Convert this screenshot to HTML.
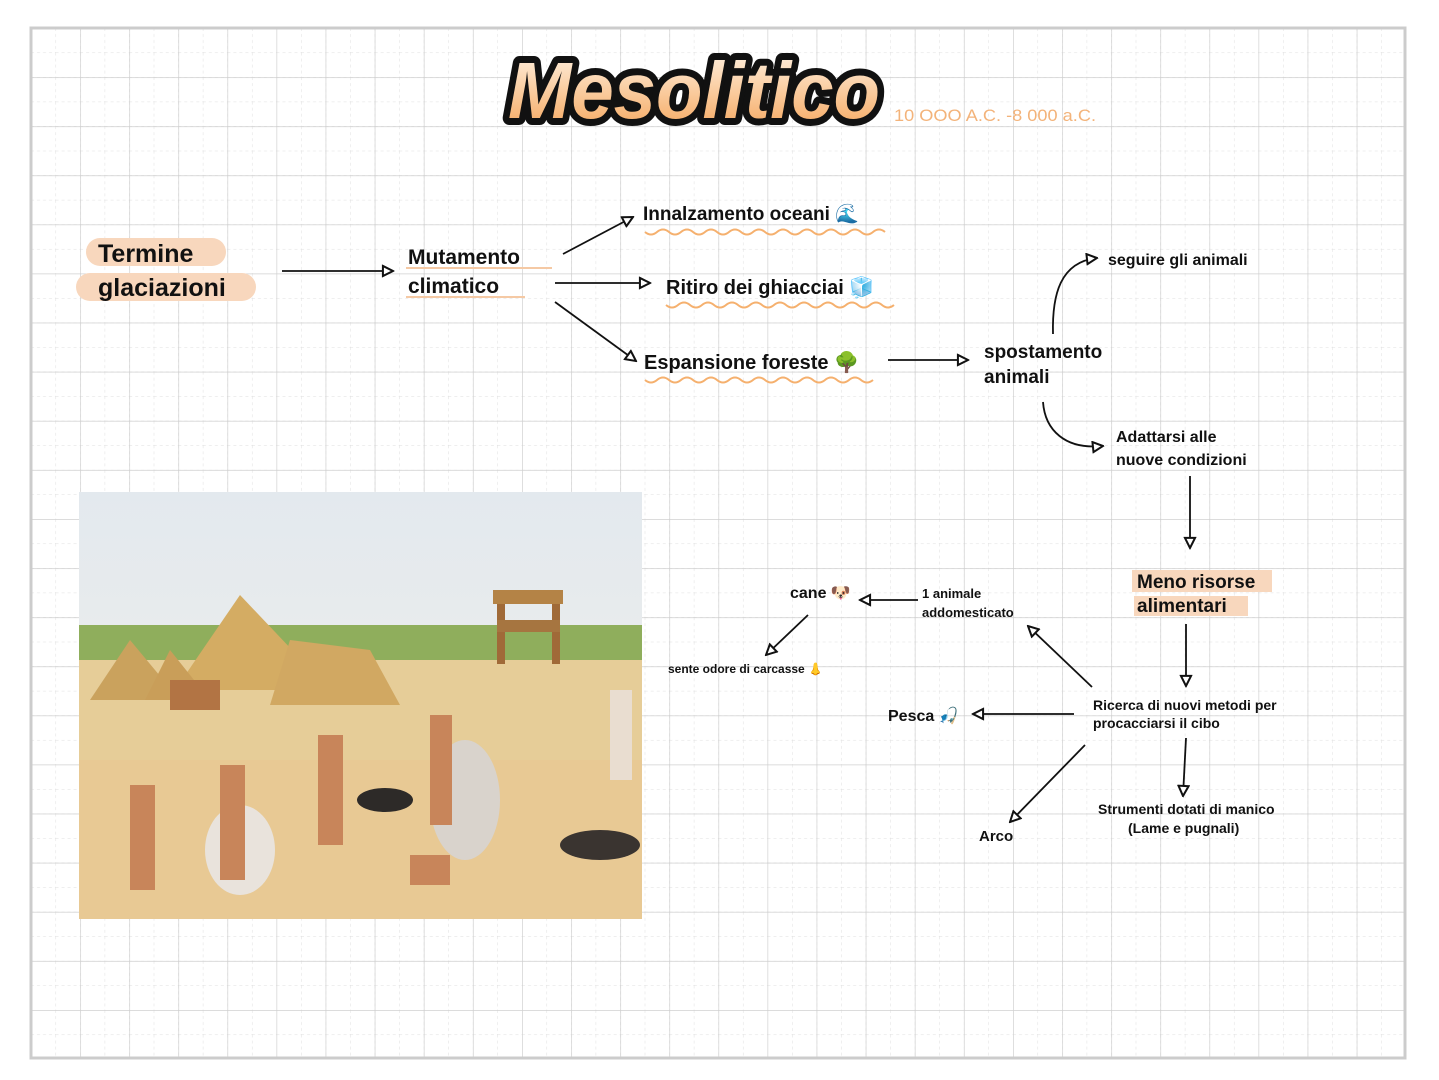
<!DOCTYPE html>
<html><head><meta charset="utf-8"><style>
html,body{margin:0;padding:0;background:#fff;}
svg{display:block}
text{font-family:"Liberation Sans",sans-serif;fill:#111;font-weight:bold}
</style></head><body>
<svg width="1439" height="1080" viewBox="0 0 1439 1080" xmlns="http://www.w3.org/2000/svg">
<defs>
<pattern id="minor" x="31" y="28" width="24.55" height="24.55" patternUnits="userSpaceOnUse">
<path d="M0 0H24.55M0 0V24.55" stroke="#dedede" stroke-width="1" stroke-dasharray="3 3" fill="none"/>
</pattern>
<pattern id="major" x="31" y="28" width="49.1" height="49.1" patternUnits="userSpaceOnUse">
<path d="M0 0H49.1M0 0V49.1" stroke="#d0d0d0" stroke-width="1.4" fill="none"/>
</pattern>
<linearGradient id="tg" x1="0" y1="0" x2="0" y2="1"><stop offset="0" stop-color="#fff4e6"/><stop offset="1" stop-color="#f5a55a"/></linearGradient>
<linearGradient id="sky" x1="0" y1="0" x2="0" y2="1"><stop offset="0" stop-color="#e3e9ee"/><stop offset="1" stop-color="#f2f0ea"/></linearGradient>
<marker id="ar" viewBox="0 0 10 10" refX="9" refY="5" markerWidth="7" markerHeight="7" orient="auto"><path d="M1 1L9 5L1 9Z" fill="#fff" stroke="#111" stroke-width="1.6"/></marker>
</defs>
<rect x="31" y="28" width="1374" height="1030" fill="url(#minor)"/>
<rect x="31" y="28" width="1374" height="1030" fill="url(#major)"/>
<rect x="31" y="28" width="1374" height="1030" fill="none" stroke="#ccc" stroke-width="3"/>

<!-- title -->
<text x="508" y="118" font-style="italic" font-size="80" textLength="372" lengthAdjust="spacingAndGlyphs" stroke="#111" stroke-width="14" stroke-linejoin="round" style="fill:#111">Mesolitico</text>
<text x="508" y="118" font-style="italic" font-size="80" textLength="372" lengthAdjust="spacingAndGlyphs" style="fill:url(#tg)">Mesolitico</text>
<text x="894" y="121" font-size="17" textLength="202" lengthAdjust="spacingAndGlyphs" style="fill:#f3b37a;font-weight:normal">10 OOO A.C. -8 000 a.C.</text>

<!-- highlights -->
<rect x="86" y="238" width="140" height="28" rx="14" fill="#f8d7bd"/>
<rect x="76" y="273" width="180" height="28" rx="14" fill="#f8d7bd"/>
<rect x="1132" y="570" width="140" height="22" fill="#f8d7bd"/>
<rect x="1134" y="596" width="114" height="20" fill="#f8d7bd"/>
<line x1="406" y1="268" x2="552" y2="268" stroke="#f5c9a4" stroke-width="2"/>
<line x1="406" y1="297" x2="525" y2="297" stroke="#f5c9a4" stroke-width="2"/>

<text x="98" y="262" font-size="25">Termine</text>
<text x="98" y="296" font-size="25">glaciazioni</text>
<text x="408" y="264" font-size="21">Mutamento</text>
<text x="408" y="293" font-size="21">climatico</text>

<g stroke="#111" stroke-width="1.8" fill="none">
<line x1="282" y1="271" x2="393" y2="271" marker-end="url(#ar)"/>
<line x1="563" y1="254" x2="633" y2="217" marker-end="url(#ar)"/>
<line x1="555" y1="283" x2="650" y2="283" marker-end="url(#ar)"/>
<line x1="555" y1="302" x2="636" y2="361" marker-end="url(#ar)"/>
<line x1="888" y1="360" x2="968" y2="360" marker-end="url(#ar)"/>
<path d="M1053 334C1052 295 1060 262 1097 258" marker-end="url(#ar)"/>
<path d="M1043 402C1045 430 1065 450 1103 446" marker-end="url(#ar)"/>
<line x1="1190" y1="476" x2="1190" y2="548" marker-end="url(#ar)"/>
<line x1="1186" y1="624" x2="1186" y2="686" marker-end="url(#ar)"/>
<line x1="1092" y1="687" x2="1028" y2="626" marker-end="url(#ar)"/>
<line x1="1074" y1="714" x2="973" y2="714" marker-end="url(#ar)"/>
<line x1="1085" y1="745" x2="1010" y2="822" marker-end="url(#ar)"/>
<line x1="1186" y1="738" x2="1183" y2="796" marker-end="url(#ar)"/>
<line x1="918" y1="600" x2="860" y2="600" marker-end="url(#ar)"/>
<line x1="808" y1="615" x2="766" y2="655" marker-end="url(#ar)"/>
</g>
<g stroke="#f5b06e" stroke-width="2" fill="none">
<path d="M645 232q6 5 12 0t12 0t12 0t12 0t12 0t12 0t12 0t12 0t12 0t12 0t12 0t12 0t12 0t12 0t12 0t12 0t12 0t12 0t12 0t12 0"/>
<path d="M666 305q6 5 12 0t12 0t12 0t12 0t12 0t12 0t12 0t12 0t12 0t12 0t12 0t12 0t12 0t12 0t12 0t12 0t12 0t12 0t12 0"/>
<path d="M645 380q6 5 12 0t12 0t12 0t12 0t12 0t12 0t12 0t12 0t12 0t12 0t12 0t12 0t12 0t12 0t12 0t12 0t12 0t12 0t12 0"/>
</g>
<text x="643" y="220" font-size="19">Innalzamento oceani 🌊</text>
<text x="666" y="294" font-size="20">Ritiro dei ghiacciai 🧊</text>
<text x="644" y="369" font-size="20">Espansione foreste 🌳</text>
<text x="984" y="358" font-size="19">spostamento</text>
<text x="984" y="383" font-size="19">animali</text>
<text x="1108" y="265" font-size="16">seguire gli animali</text>
<text x="1116" y="442" font-size="16">Adattarsi alle</text>
<text x="1116" y="465" font-size="16">nuove condizioni</text>
<text x="1137" y="588" font-size="19">Meno risorse</text>
<text x="1137" y="612" font-size="19">alimentari</text>
<text x="1093" y="710" font-size="14">Ricerca di nuovi metodi per</text>
<text x="1093" y="728" font-size="14">procacciarsi il cibo</text>
<text x="1098" y="814" font-size="14">Strumenti dotati di manico</text>
<text x="1128" y="833" font-size="14">(Lame e pugnali)</text>
<text x="979" y="841" font-size="15">Arco</text>
<text x="888" y="721" font-size="16">Pesca 🎣</text>
<text x="922" y="598" font-size="13">1 animale</text>
<text x="922" y="617" font-size="13">addomesticato</text>
<text x="790" y="598" font-size="16">cane 🐶</text>
<text x="668" y="673" font-size="12">sente odore di carcasse 👃</text>

<!-- painting -->
<g>
<rect x="79" y="492" width="563" height="427" fill="url(#sky)"/>
<rect x="79" y="625" width="563" height="50" fill="#8fae5c"/>
<rect x="79" y="660" width="563" height="259" fill="#e6cd98"/>
<rect x="79" y="760" width="563" height="159" fill="#e8c994"/>
<polygon points="240,595 175,690 330,690" fill="#d4ac63"/>
<polygon points="130,640 90,700 180,700" fill="#caa25d"/>
<polygon points="170,650 145,700 210,700" fill="#c99e59"/>
<polygon points="290,640 270,705 400,705 370,650" fill="#d1a862"/>
<rect x="170" y="680" width="50" height="30" fill="#b27444"/>
<rect x="493" y="590" width="70" height="14" fill="#b48346"/>
<rect x="497" y="604" width="8" height="60" fill="#a06a38"/>
<rect x="552" y="604" width="8" height="60" fill="#a06a38"/>
<rect x="497" y="620" width="63" height="12" fill="#a67540"/>
<ellipse cx="240" cy="850" rx="35" ry="45" fill="#e9e3dc"/>
<ellipse cx="465" cy="800" rx="35" ry="60" fill="#d9d3cc"/>
<ellipse cx="385" cy="800" rx="28" ry="12" fill="#2d2a28"/>
<ellipse cx="600" cy="845" rx="40" ry="15" fill="#3a3430"/>
<g fill="#c8855a">
<rect x="130" y="785" width="25" height="105"/>
<rect x="220" y="765" width="25" height="115"/>
<rect x="318" y="735" width="25" height="110"/>
<rect x="430" y="715" width="22" height="110"/>
<rect x="410" y="855" width="40" height="30"/>
<rect x="610" y="690" width="22" height="90" fill="#e9ddd0"/>
</g>
</g>
</svg>
</body></html>
